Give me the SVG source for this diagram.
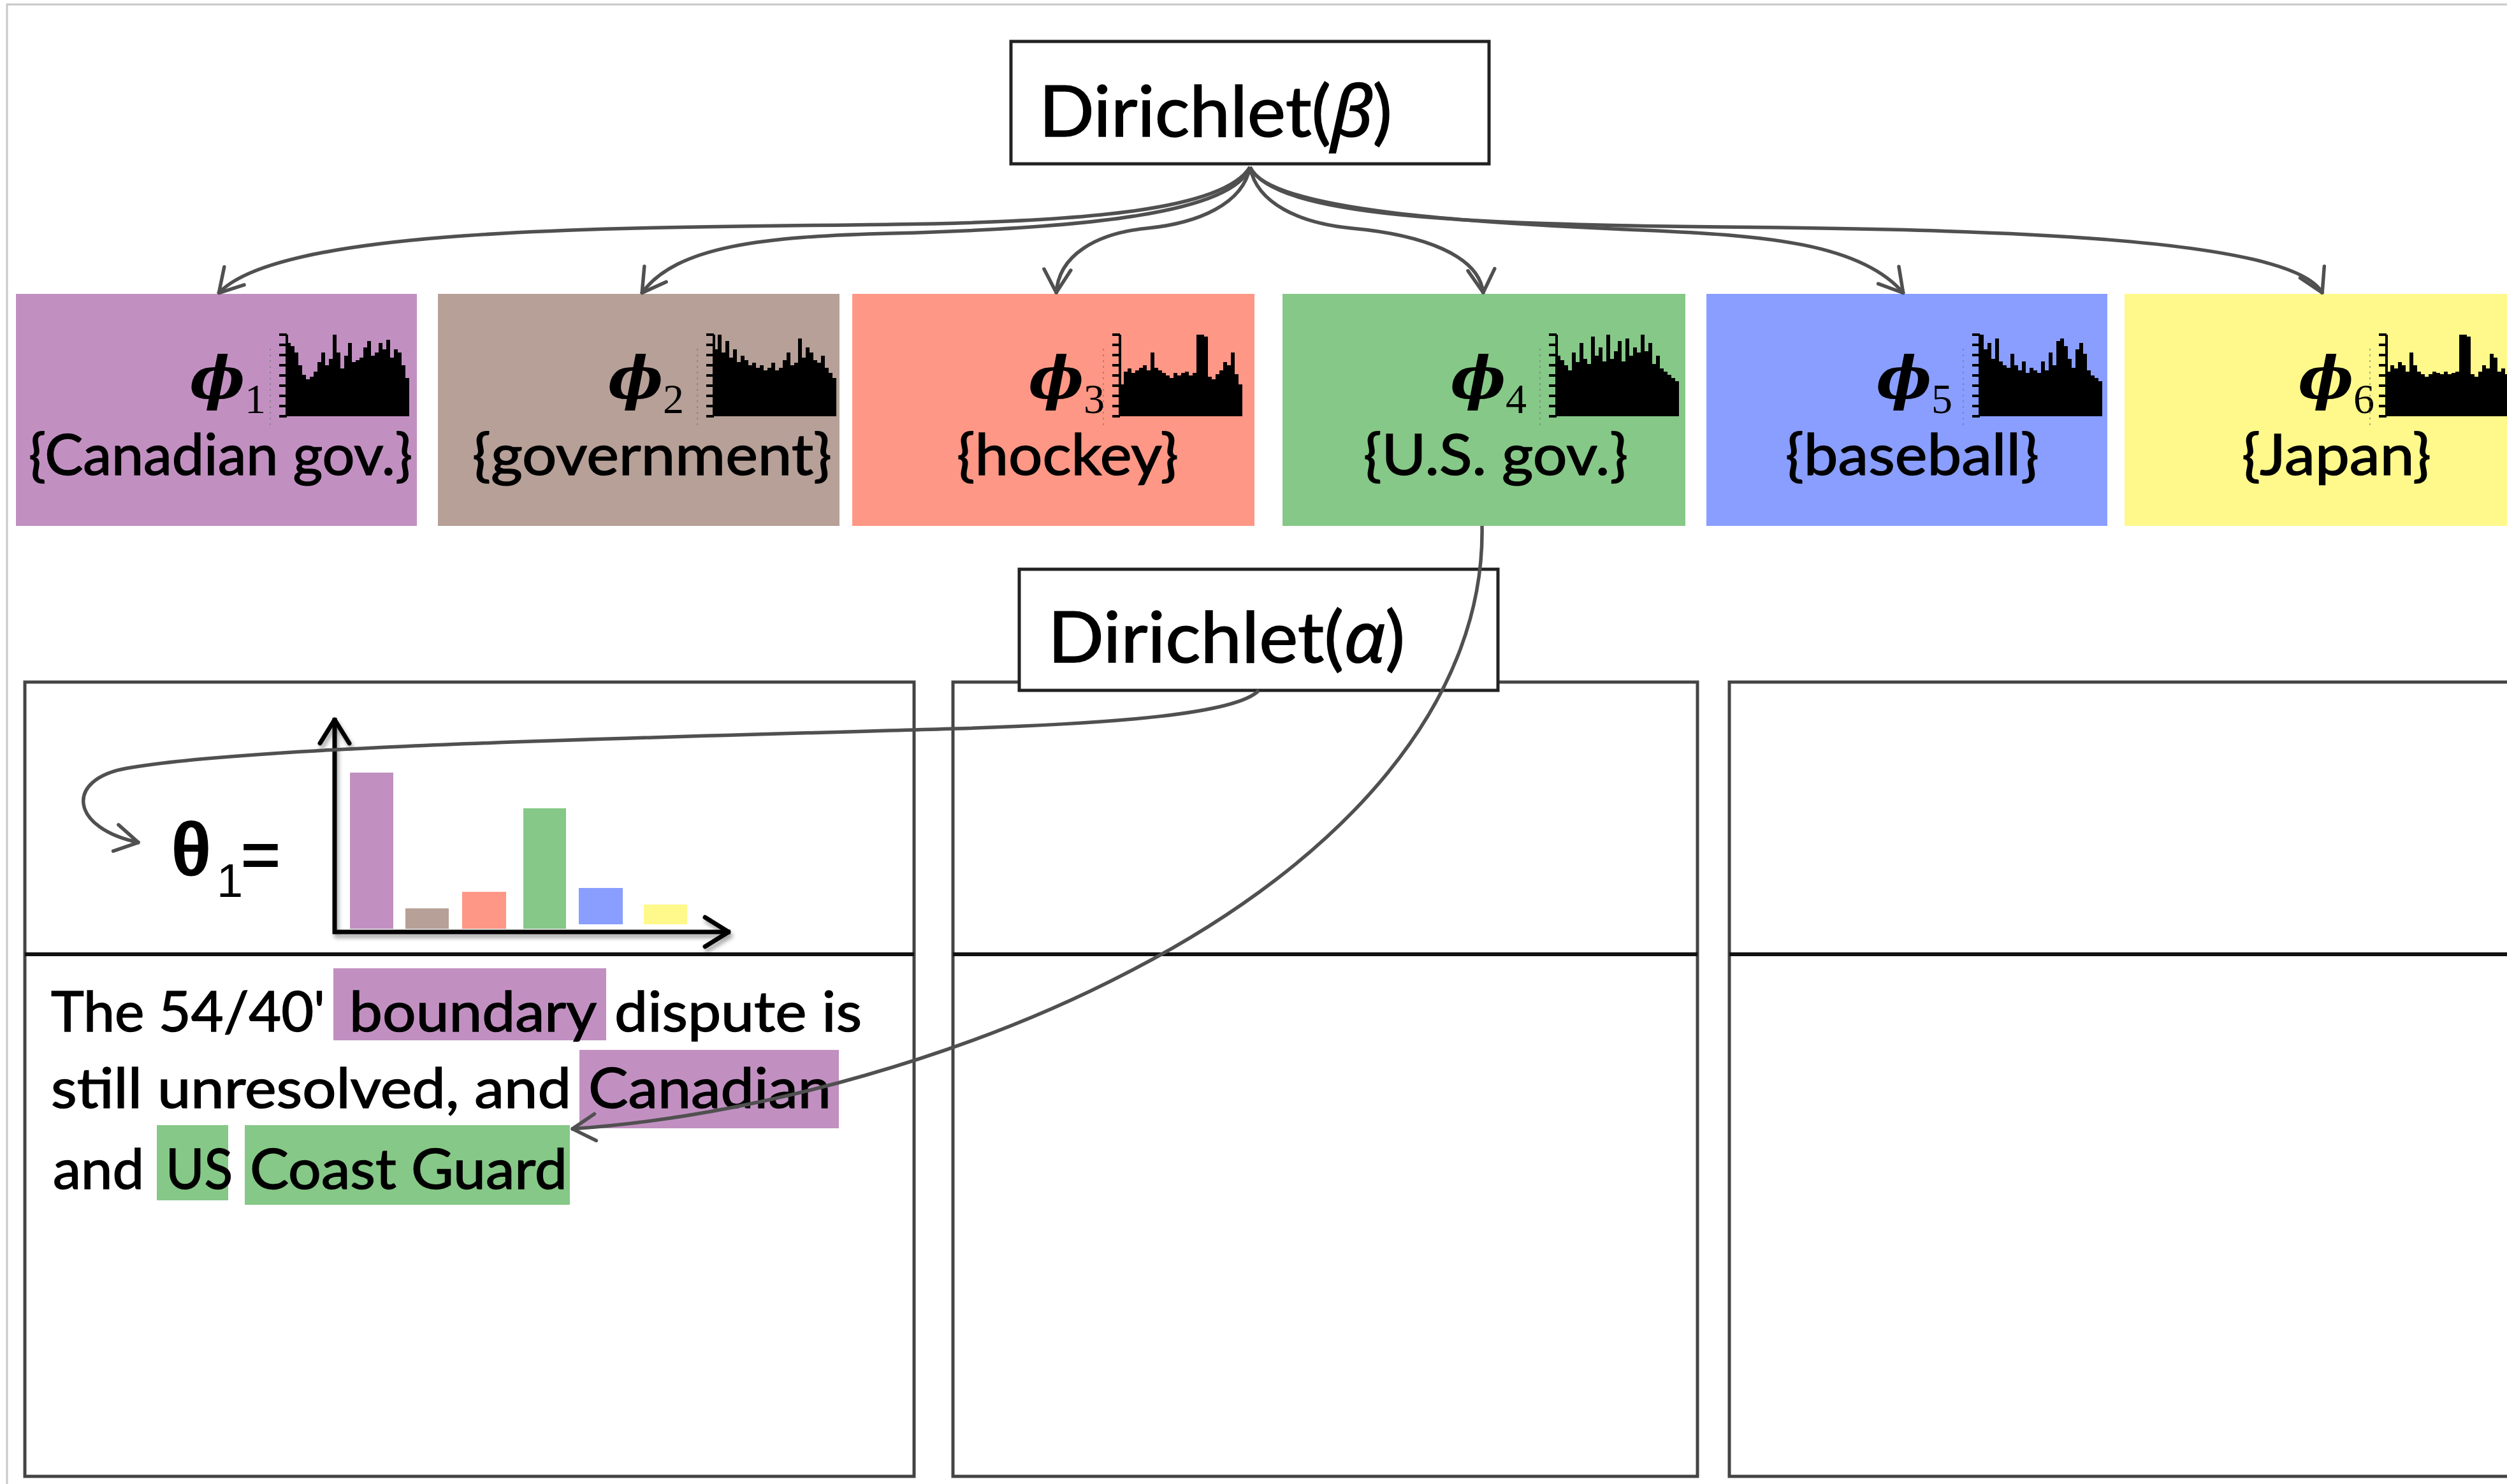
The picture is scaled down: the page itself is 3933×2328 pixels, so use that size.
<svg xmlns="http://www.w3.org/2000/svg" width="3933" height="2328" viewBox="0 0 3933 2328">
<style>
  .lbl{font-family:Lato,"Liberation Sans",sans-serif;font-size:90px;fill:#000;stroke:#000;stroke-width:1.5}
  .body{font-family:Lato,"Liberation Sans",sans-serif;font-size:88px;fill:#000;stroke:#000;stroke-width:1.5}
  .dir{font-family:Lato,"Liberation Sans",sans-serif;font-size:110px;fill:#000;stroke:#000;stroke-width:1.5}
  .greek{font-family:"Noto Sans","DejaVu Sans",sans-serif;font-style:italic}
  .phi{font-family:"DejaVu Serif",serif;font-weight:bold;font-style:italic;font-size:92px;text-anchor:end;fill:#000}
  .sub{font-family:"Liberation Serif",serif;font-size:66px;fill:#000}
  .conn{fill:none;stroke:#505050;stroke-width:5.5;marker-end:url(#vee)}
  .box{fill:#fff;stroke:#222;stroke-width:5}
  .doc{fill:none;stroke:#444;stroke-width:5}
  .divider{stroke:#111;stroke-width:6}
  .axis{fill:none;stroke:#000;stroke-width:7;marker-end:url(#chev)}
  .purple{fill:#c190c1}
  .brown{fill:#b6a097}
  .red{fill:#fe9785}
  .green{fill:#86c887}
  .blue{fill:#899efe}
  .yellow{fill:#fef98a}
</style>
<defs>
  <marker id="vee" viewBox="-45 -25 50 50" refX="0" refY="0" markerWidth="50" markerHeight="50" markerUnits="userSpaceOnUse" orient="auto">
    <path d="M-38,-21 L-2,0 L-38,21" fill="none" stroke="#505050" stroke-width="5.5" stroke-linejoin="round" stroke-linecap="round"/>
  </marker>
  <marker id="chev" viewBox="-50 -30 56 60" refX="0" refY="0" markerWidth="56" markerHeight="60" markerUnits="userSpaceOnUse" orient="auto">
    <path d="M-40,-23 L-3,0 L-40,23" fill="none" stroke="#000" stroke-width="7" stroke-linejoin="round" stroke-linecap="round"/>
  </marker>
  <filter id="shadow" x="-10%" y="-10%" width="130%" height="130%">
    <feDropShadow dx="3" dy="6" stdDeviation="3" flood-color="#000" flood-opacity="0.35"/>
  </filter>
  <!-- comb-style vertical axis used by the small word histograms -->
  <g id="comb">
    <line x1="-26" y1="-106" x2="-26" y2="20" stroke="#777" stroke-width="2" stroke-dasharray="3 6" opacity="0.6"/>
    <path d="M0,0 V-128 M-12,0 H0 M-12,-16 H0 M-12,-32 H0 M-12,-48 H0 M-12,-64 H0 M-12,-80 H0 M-12,-96 H0 M-12,-112 H0 M-12,-128 H0" stroke="#000" stroke-width="4" fill="none"/>
  </g>
  <path id="h1" d="M0,0V-115h6V-110h6V-100h6V-80h6V-65h6V-58h6V-62h6V-70h6V-85h6V-100h6V-80h6V-90h6V-128h6V-100h6V-75h6V-95h6V-115h6V-85h6V-88h6V-92h6V-108h6V-118h6V-95h6V-100h6V-115h6V-105h6V-120h6V-92h6V-105h6V-100h6V-80h6V-60h6V0Z"/>
  <path id="h2" d="M0,0V-105h6V-128h6V-100h6V-118h6V-92h6V-105h6V-85h6V-95h6V-88h6V-80h6V-84h6V-76h6V-80h6V-72h6V-76h6V-84h6V-72h6V-76h6V-88h6V-100h6V-80h6V-84h6V-122h6V-92h6V-108h6V-100h6V-88h6V-84h6V-95h6V-76h6V-68h6V-60h6V0Z"/>
  <path id="h3" d="M0,0V-50h6V-70h6V-75h6V-68h6V-72h6V-76h6V-80h6V-72h6V-100h6V-76h6V-72h6V-68h6V-64h6V-60h6V-68h6V-64h6V-68h6V-70h6V-64h6V-68h6V-128h6V-128h6V-125h6V-62h6V-58h6V-66h6V-72h6V-85h6V-80h6V-100h6V-66h6V-50h6V0Z"/>
  <path id="h4" d="M0,0V-95h6V-88h6V-80h6V-72h6V-100h6V-85h6V-115h6V-90h6V-82h6V-125h6V-95h6V-108h6V-86h6V-128h6V-90h6V-102h6V-118h6V-86h6V-122h6V-95h6V-108h6V-100h6V-128h6V-102h6V-115h6V-82h6V-95h6V-75h6V-70h6V-65h6V-60h6V-55h6V0Z"/>
  <path id="h5" d="M0,0V-128h6V-105h6V-115h6V-90h6V-122h6V-86h6V-80h6V-76h6V-98h6V-80h6V-72h6V-86h6V-68h6V-76h6V-72h6V-68h6V-86h6V-72h6V-100h6V-80h6V-118h6V-122h6V-110h6V-90h6V-76h6V-105h6V-115h6V-98h6V-72h6V-64h6V-60h6V-55h6V0Z"/>
  <path id="h6" d="M0,0V-70h6V-80h6V-75h6V-85h6V-80h6V-70h6V-100h6V-80h6V-70h6V-66h6V-62h6V-66h6V-70h6V-68h6V-66h6V-70h6V-66h6V-68h6V-70h6V-128h6V-128h6V-125h6V-66h6V-62h6V-70h6V-80h6V-75h6V-98h6V-92h6V-70h6V-75h6V-66h6V0Z"/>
</defs>

<rect width="3933" height="2328" fill="#fff"/>
<!-- outer frame -->
<path d="M11,2328 V7 H3933" fill="none" stroke="#c8c8c8" stroke-width="3"/>

<!-- top prior -->
<g id="node-dirichlet-beta">
  <rect class="box" x="1586" y="65" width="750" height="192"/>
  <text class="dir" x="1630" y="214" textLength="554" lengthAdjust="spacingAndGlyphs">Dirichlet(<tspan class="greek">β</tspan>)</text>
</g>

<!-- topics -->
<g id="node-phi1">
  <rect class="purple" x="25" y="461" width="629" height="364"/>
  <text class="phi" x="384" y="625">ϕ</text><text class="sub" x="384" y="648">1</text>
  <use href="#comb" x="450" y="653"/><use href="#h1" x="450" y="653"/>
  <text class="lbl" x="45" y="745" textLength="602" lengthAdjust="spacingAndGlyphs">{Canadian gov.}</text>
</g>
<g id="node-phi2">
  <rect class="brown" x="687" y="461" width="630" height="364"/>
  <text class="phi" x="1040" y="625">ϕ</text><text class="sub" x="1040" y="648">2</text>
  <use href="#comb" x="1120" y="653"/><use href="#h2" x="1120" y="653"/>
  <text class="lbl" x="741" y="745" textLength="564" lengthAdjust="spacingAndGlyphs">{government}</text>
</g>
<g id="node-phi3">
  <rect class="red" x="1337" y="461" width="631" height="364"/>
  <text class="phi" x="1700" y="625">ϕ</text><text class="sub" x="1700" y="648">3</text>
  <use href="#comb" x="1757" y="653"/><use href="#h3" x="1757" y="653"/>
  <text class="lbl" x="1501" y="745" textLength="348" lengthAdjust="spacingAndGlyphs">{hockey}</text>
</g>
<g id="node-phi4">
  <rect class="green" x="2012" y="461" width="632" height="364"/>
  <text class="phi" x="2362" y="625">ϕ</text><text class="sub" x="2362" y="648">4</text>
  <use href="#comb" x="2442" y="653"/><use href="#h4" x="2442" y="653"/>
  <text class="lbl" x="2139" y="745" textLength="415" lengthAdjust="spacingAndGlyphs">{U.S. gov.}</text>
</g>
<g id="node-phi5">
  <rect class="blue" x="2677" y="461" width="629" height="364"/>
  <text class="phi" x="3030" y="625">ϕ</text><text class="sub" x="3030" y="648">5</text>
  <use href="#comb" x="3106" y="653"/><use href="#h5" x="3106" y="653"/>
  <text class="lbl" x="2801" y="745" textLength="398" lengthAdjust="spacingAndGlyphs">{baseball}</text>
</g>
<g id="node-phi6">
  <rect class="yellow" x="3333" y="461" width="640" height="364"/>
  <text class="phi" x="3692" y="625">ϕ</text><text class="sub" x="3692" y="648">6</text>
  <use href="#comb" x="3744" y="653"/><use href="#h6" x="3744" y="653"/>
  <text class="lbl" x="3517" y="745" textLength="297" lengthAdjust="spacingAndGlyphs">{Japan}</text>
</g>

<!-- documents -->
<g id="node-doc1">
  <rect class="doc" x="39" y="1070" width="1395" height="1246"/>
  <line class="divider" x1="39" y1="1497" x2="1434" y2="1497"/>
  <!-- theta_1 bar chart -->
  <text x="268" y="1373" font-family="'Liberation Sans',sans-serif" font-weight="bold" font-size="118">θ</text>
  <text x="340" y="1407" font-family="'Liberation Sans',sans-serif" font-size="74">1</text>
  <text x="378" y="1377" font-family="'Liberation Sans',sans-serif" font-size="106" stroke="#000" stroke-width="2">=</text>
  <rect class="purple" x="549" y="1212" width="68" height="245"/>
  <rect class="brown" x="636" y="1425" width="68" height="32"/>
  <rect class="red" x="725" y="1399" width="69" height="58"/>
  <rect class="green" x="821" y="1268" width="67" height="189"/>
  <rect class="blue" x="908" y="1393" width="69" height="57"/>
  <rect class="yellow" x="1010" y="1419" width="68" height="31"/>
  <g filter="url(#shadow)">
    <path class="axis" d="M525,1465 V1126"/>
    <path class="axis" d="M522,1462 H1146"/>
  </g>
  <!-- document text with topic highlights -->
  <rect class="purple" x="523" y="1519" width="428" height="113"/>
  <rect class="purple" x="909" y="1647" width="407" height="123"/>
  <rect class="green" x="246" y="1765" width="112" height="118"/>
  <rect class="green" x="384" y="1765" width="510" height="125"/>
  <text class="body" x="80" y="1618" textLength="430" lengthAdjust="spacingAndGlyphs">The 54/40'</text>
  <text class="body" x="548" y="1618" textLength="388" lengthAdjust="spacingAndGlyphs">boundary</text>
  <text class="body" x="964" y="1618" textLength="388" lengthAdjust="spacingAndGlyphs">dispute is</text>
  <text class="body" x="80" y="1738" textLength="816" lengthAdjust="spacingAndGlyphs">still unresolved, and</text>
  <text class="body" x="923" y="1738" textLength="381" lengthAdjust="spacingAndGlyphs">Canadian</text>
  <text class="body" x="83" y="1865" textLength="143" lengthAdjust="spacingAndGlyphs">and</text>
  <text class="body" x="260" y="1865" textLength="105" lengthAdjust="spacingAndGlyphs">US</text>
  <text class="body" x="392" y="1865" textLength="498" lengthAdjust="spacingAndGlyphs">Coast Guard</text>
</g>
<g id="node-doc2">
  <rect class="doc" x="1495" y="1070" width="1168" height="1246"/>
  <line class="divider" x1="1495" y1="1497" x2="2663" y2="1497"/>
</g>
<g id="node-doc3">
  <rect class="doc" x="2713" y="1070" width="1300" height="1246"/>
  <line class="divider" x1="2713" y1="1497" x2="3933" y2="1497"/>
</g>

<!-- document prior -->
<g id="node-dirichlet-alpha">
  <rect class="box" x="1599" y="893" width="751" height="190"/>
  <text class="dir" x="1644" y="1039" textLength="560" lengthAdjust="spacingAndGlyphs">Dirichlet(<tspan class="greek">α</tspan>)</text>
</g>

<!-- connectors -->
<g id="connectors">
  <path class="conn" d="M1961,262 C1920,330 1700,348 1400,352 C1000,358 440,352 342,461"/>
  <path class="conn" d="M1961,262 C1935,335 1700,358 1400,366 C1200,371 1060,385 1006,461"/>
  <path class="conn" d="M1961,262 C1950,320 1880,350 1800,358 C1720,366 1660,400 1657,461"/>
  <path class="conn" d="M1961,262 C1972,320 2040,350 2120,358 C2230,368 2322,400 2327,461"/>
  <path class="conn" d="M1961,262 C1990,330 2300,350 2600,362 C2760,370 2920,380 2987,461"/>
  <path class="conn" d="M1961,262 C2000,340 2300,352 2700,356 C3100,360 3600,370 3644,461"/>
  <path class="conn" d="M1975,1083 C1940,1120 1750,1135 1500,1143 C1000,1158 400,1170 200,1205 C100,1222 110,1300 219,1322"/>
  <path class="conn" d="M2325,825 C2330,1100 2110,1350 1770,1525 C1530,1650 1200,1750 896,1771"/>
</g>
</svg>
